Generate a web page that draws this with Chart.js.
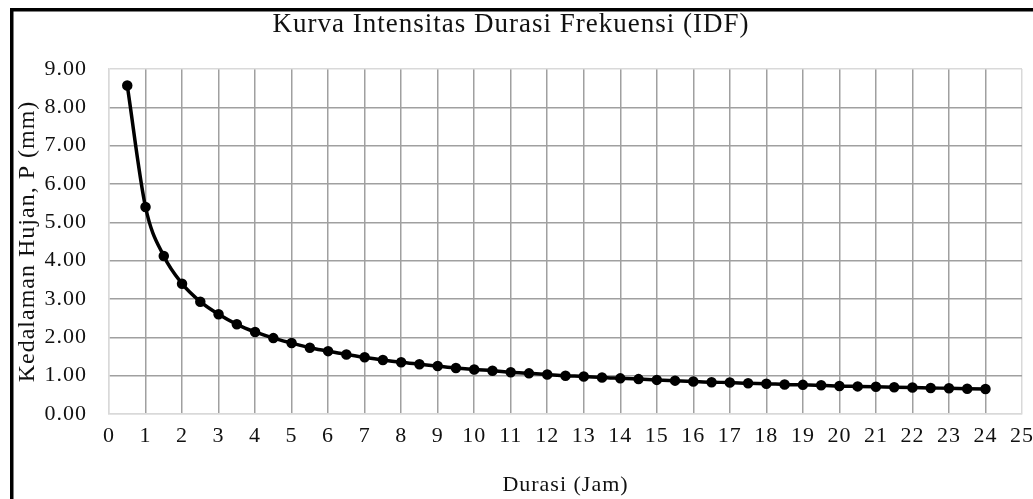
<!DOCTYPE html>
<html>
<head>
<meta charset="utf-8">
<script src="https://cdn.jsdelivr.net/npm/chart.js@4/dist/chart.umd.min.js"></script>
<style>
  html, body { margin: 0; padding: 0; background: #fff; }
  #wrap { width: 1033px; height: 499px; position: relative; }
</style>
</head>
<body>
<div id="wrap"><canvas id="myChart"></canvas></div>
<script>
// Durasi (jam) and intensity
const durasi = [0.5, 1, 1.5, 2, 2.5, 3, 3.5, 4, 4.5, 5, 5.5, 6, 6.5, 7, 7.5, 8,
  8.5, 9, 9.5, 10, 10.5, 11, 11.5, 12, 12.5, 13, 13.5, 14, 14.5, 15, 15.5, 16,
  16.5, 17, 17.5, 18, 18.5, 19, 19.5, 20, 20.5, 21, 21.5, 22, 22.5, 23, 23.5, 24];
const kedalaman = [8.57, 5.40, 4.12, 3.40, 2.93, 2.60, 2.34, 2.14, 1.98, 1.85, 1.73, 1.64,
  1.55, 1.48, 1.41, 1.35, 1.30, 1.25, 1.20, 1.16, 1.13, 1.09, 1.06, 1.03,
  1.00, 0.98, 0.95, 0.93, 0.91, 0.89, 0.87, 0.85, 0.83, 0.82, 0.80, 0.79,
  0.77, 0.76, 0.75, 0.73, 0.72, 0.71, 0.70, 0.69, 0.68, 0.67, 0.66, 0.65];
const xTicks = { min: 0, max: 25, step: 1 };
const yTicks = { min: 0, max: 9, step: 1 };

const ctx = document.getElementById('myChart').getContext('2d');
const serif = '"Liberation Serif", "Times New Roman", serif';
const textColor = '#111';
const gridColor = '#a0a0a0';
const edgeColor = '#d9d9d9';
const spacing = '1px'; // reference text runs a bit wide

// white page + the black frame that is cut off at right/bottom
const frame = {
  id: 'frame',
  beforeLayout(chart) {
    chart.ctx.letterSpacing = spacing;
  },
  beforeDraw(chart) {
    const c = chart.ctx;
    c.letterSpacing = spacing;
    c.save();
    c.fillStyle = '#fff';
    c.fillRect(0, 0, chart.width, chart.height);
    c.fillStyle = '#000';
    c.fillRect(10, 8, 3.5, chart.height - 8);
    c.fillRect(10, 8, chart.width - 10, 3.5);
    c.restore();
  },
};

const points = durasi.map((d, i) => ({ x: d, y: kedalaman[i] }));

new Chart(ctx, {
  type: 'scatter',
  data: {
    datasets: [
      {
        label: 'IDF',
        data: points,
        showLine: true,
        borderColor: '#000',
        backgroundColor: '#000',
        borderWidth: 3.5,
        pointRadius: 3.5,
        pointHoverRadius: 3.5,
        cubicInterpolationMode: 'monotone',
      },
    ],
  },
  options: {
    responsive: true,
    maintainAspectRatio: false,
    animation: false,
    layout: { padding: { left: 0, right: 11, top: 0, bottom: 0 } },
    plugins: {
      legend: { display: false },
      tooltip: { enabled: false },
      title: {
        display: true,
        text: 'Kurva Intensitas Durasi Frekuensi (IDF)',
        color: textColor,
        font: { family: serif, size: 27, weight: 'normal' },
        padding: { top: 9, bottom: 27.6 },
      },
    },
    scales: {
      x: {
        type: 'linear',
        min: xTicks.min,
        max: xTicks.max,
        afterFit(scale) {
          scale.height = 85;
          scale.paddingRight = 11;
          scale.paddingLeft = 0;
        },
        ticks: {
          stepSize: xTicks.step,
          color: textColor,
          font: { family: serif, size: 22 },
          padding: 9,
          maxRotation: 0,
        },
        grid: {
          drawTicks: false,
          color: c => (c.index === 0 || c.tick.value === xTicks.max ? edgeColor : gridColor),
          lineWidth: 1.5,
        },
        border: { color: edgeColor, width: 1.5 },
        title: {
          display: true,
          text: 'Durasi (Jam)',
          color: textColor,
          font: { family: serif, size: 22 },
          padding: { top: 4, bottom: 1 },
        },
      },
      y: {
        min: yTicks.min,
        max: yTicks.max,
        afterFit(scale) {
          scale.width = 109;
        },
        ticks: {
          stepSize: yTicks.step,
          color: textColor,
          font: { family: serif, size: 22 },
          padding: 22,
          callback: v => v.toFixed(2),
        },
        grid: {
          drawTicks: false,
          color: c => (c.index === 0 || c.tick.value === yTicks.max ? edgeColor : gridColor),
          lineWidth: 1.5,
        },
        border: { color: edgeColor, width: 1.5 },
        title: {
          display: true,
          text: 'Kedalaman Hujan, P (mm)',
          color: textColor,
          font: { family: serif, size: 24 },
          padding: { top: 13, bottom: 0 },
        },
      },
    },
  },
  plugins: [frame],
});
</script>
</body>
</html>
